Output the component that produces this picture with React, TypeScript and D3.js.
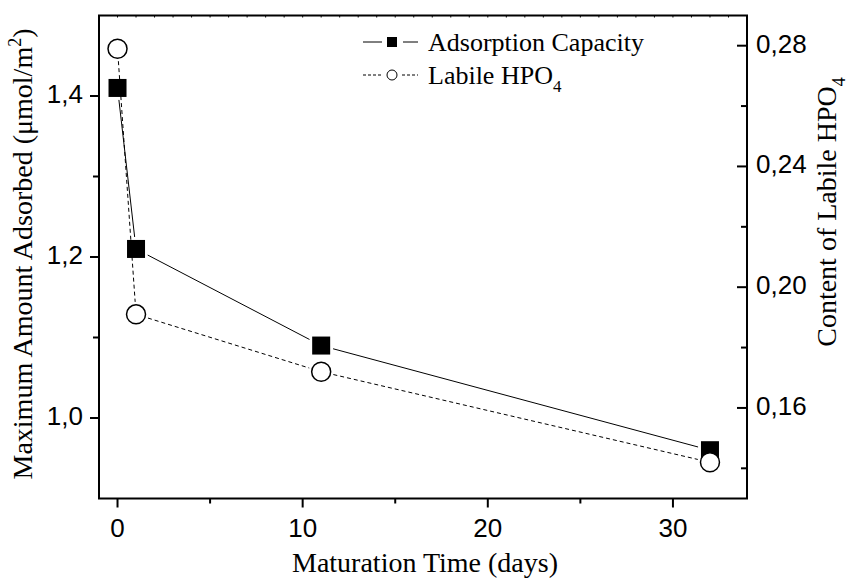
import React from "react";
import * as d3 from "d3";

const days = [0, 1, 11, 32];
const adsorption = [1.41, 1.21, 1.09, 0.96];
const labile = [0.279, 0.191, 0.172, 0.142];
const xTicks = [0, 10, 20, 30];
const xMinor = [5, 15, 25];
const leftTicks = [1.0, 1.2, 1.4];
const leftMinor = [1.1, 1.3];
const rightTicks = [0.16, 0.2, 0.24, 0.28];
const rightMinor = [0.14, 0.18, 0.22, 0.26];

const W = 856, H = 579;
const L = 99, R = 747, T = 15.5, B = 498.5;
const SQ = 18;
const CR = 9.5;
const GAP = 3;

type P = [number, number];

function exitDist(kind: "sq" | "c", dx: number, dy: number) {
  const len = Math.hypot(dx, dy);
  if (kind === "c") return CR + GAP;
  const ux = Math.abs(dx) / len, uy = Math.abs(dy) / len;
  const h = SQ / 2;
  const t = Math.min(ux > 0 ? h / ux : Infinity, uy > 0 ? h / uy : Infinity);
  return t + GAP;
}

function gappedSegments(pts: P[], kind: "sq" | "c") {
  const segs: [P, P][] = [];
  for (let i = 0; i < pts.length - 1; i++) {
    const [x0, y0] = pts[i];
    const [x1, y1] = pts[i + 1];
    const dx = x1 - x0, dy = y1 - y0;
    const len = Math.hypot(dx, dy);
    const d = exitDist(kind, dx, dy);
    if (len <= 2 * d) continue;
    const ux = dx / len, uy = dy / len;
    segs.push([
      [x0 + ux * d, y0 + uy * d],
      [x1 - ux * d, y1 - uy * d],
    ]);
  }
  return segs;
}

export default function App() {
  const x = d3.scaleLinear().domain([-1, 34]).range([L, R]);
  const yL = d3.scaleLinear().domain([0.9, 1.5]).range([B, T]);
  const yR = d3.scaleLinear().domain([0.13, 0.29]).range([B, T]);
  const fmt = (v: number, d: number) => v.toFixed(d).replace(".", ",");
  const seg = d3.line<P>();
  const ptsA: P[] = adsorption.map((v, i) => [x(days[i]), yL(v)]);
  const ptsB: P[] = labile.map((v, i) => [x(days[i]), yR(v)]);
  const segA = gappedSegments(ptsA, "sq");
  const segB = gappedSegments(ptsB, "c");
  const topMinor = d3.range(-1, 35, 1);
  const sans = "Liberation Sans, Arial, sans-serif";
  const serif = "Liberation Serif, Times New Roman, serif";
  return (
    <svg width={W} height={H} style={{ position: "absolute", left: 0, top: 0, background: "#fff" }}>
      <rect x={0} y={0} width={W} height={H} fill="#fff" />
      {segB.map((s, i) => (
        <path key={"lb" + i} d={seg(s) || ""} fill="none" stroke="#000" strokeWidth={1} strokeDasharray="4,3" />
      ))}
      {segA.map((s, i) => (
        <path key={"la" + i} d={seg(s) || ""} fill="none" stroke="#000" strokeWidth={1} />
      ))}
      {ptsA.map(([px, py], i) => (
        <rect key={"s" + i} x={px - SQ / 2} y={py - SQ / 2} width={SQ} height={SQ} fill="#000" />
      ))}
      {ptsB.map(([px, py], i) => (
        <circle key={"c" + i} cx={px} cy={py} r={CR} fill="#fff" stroke="#000" strokeWidth={1.5} />
      ))}
      <rect x={L} y={T} width={R - L} height={B - T} fill="none" stroke="#000" strokeWidth={2} />
      {topMinor.map((t) => (
        <line key={"tt" + t} x1={x(t)} x2={x(t)} y1={T} y2={T + 2} stroke="#000" strokeWidth={1} />
      ))}
      {xTicks.map((t) => (
        <g key={"xt" + t}>
          <line x1={x(t)} x2={x(t)} y1={B} y2={B + 9} stroke="#000" strokeWidth={2} />
          <text x={x(t)} y={537} textAnchor="middle" fontFamily={sans} fontSize={26}>{t}</text>
        </g>
      ))}
      {xMinor.map((t) => (
        <line key={"xm" + t} x1={x(t)} x2={x(t)} y1={B} y2={B + 5} stroke="#000" strokeWidth={2} />
      ))}
      {leftTicks.map((t) => (
        <g key={"lt" + t}>
          <line x1={L} x2={L - 9} y1={yL(t)} y2={yL(t)} stroke="#000" strokeWidth={2} />
          <text x={L - 16} y={yL(t) + 7} textAnchor="end" fontFamily={sans} fontSize={26}>{fmt(t, 1)}</text>
        </g>
      ))}
      {leftMinor.map((t) => (
        <line key={"lm" + t} x1={L} x2={L - 6} y1={yL(t)} y2={yL(t)} stroke="#000" strokeWidth={2} />
      ))}
      {rightTicks.map((t) => (
        <g key={"rt" + t}>
          <line x1={R} x2={R - 10} y1={yR(t)} y2={yR(t)} stroke="#000" strokeWidth={2} />
          <text x={R + 9} y={yR(t) + 7} textAnchor="start" fontFamily={sans} fontSize={26}>{fmt(t, 2)}</text>
        </g>
      ))}
      {rightMinor.map((t) => (
        <line key={"rm" + t} x1={R} x2={R - 6} y1={yR(t)} y2={yR(t)} stroke="#000" strokeWidth={2} />
      ))}
      <text x={425} y={572} textAnchor="middle" fontFamily={serif} fontSize={28}>Maturation Time (days)</text>
      <text transform={`translate(32,254) rotate(-90)`} textAnchor="middle" fontFamily={serif} fontSize={28}>
        Maximum Amount Adsorbed (μmol/m<tspan dy={-11} fontSize={18}>2</tspan><tspan dy={11}>)</tspan>
      </text>
      <text transform={`translate(836,212) rotate(-90)`} textAnchor="middle" fontFamily={serif} fontSize={28}>
        Content of Labile HPO<tspan dy={9} fontSize={18}>4</tspan>
      </text>
      <g>
        <line x1={363} x2={382} y1={42} y2={42} stroke="#000" strokeWidth={1} />
        <line x1={403} x2={418} y1={42} y2={42} stroke="#000" strokeWidth={1} />
        <rect x={387} y={37} width={10} height={10} fill="#000" />
        <text x={428} y={51} fontFamily={serif} fontSize={26}>Adsorption Capacity</text>
        <line x1={363} x2={383} y1={75} y2={75} stroke="#000" strokeWidth={1} strokeDasharray="3,2" />
        <line x1={402} x2={418} y1={75} y2={75} stroke="#000" strokeWidth={1} strokeDasharray="3,2" />
        <circle cx={392} cy={75} r={5} fill="#fff" stroke="#000" strokeWidth={1} />
        <text x={428} y={84} fontFamily={serif} fontSize={26}>Labile HPO<tspan dy={8} fontSize={17}>4</tspan></text>
      </g>
    </svg>
  );
}
